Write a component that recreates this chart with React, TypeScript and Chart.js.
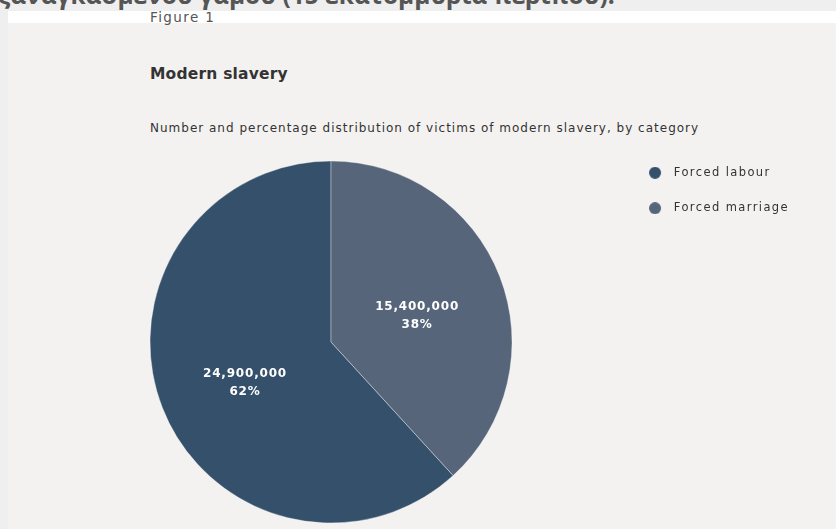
import React, { useEffect, useRef } from 'react';
import { Chart, registerables } from 'chart.js';

Chart.register(...registerables);

const categories = ['Forced labour', 'Forced marriage'];
const victims = [24900000, 15400000];
const sliceColors = ['#34506a', '#566579'];

const FONT = '"DejaVu Sans", sans-serif';

function makeDot(color: string): HTMLCanvasElement {
  const c = document.createElement('canvas');
  c.width = 19;
  c.height = 12;
  const g = c.getContext('2d')!;
  g.fillStyle = color;
  g.beginPath();
  g.arc(6, 6, 6, 0, Math.PI * 2);
  g.fill();
  return c;
}

const spacingPlugin = {
  id: 'spacing',
  beforeLayout(chart: any) {
    chart.ctx.letterSpacing = '1.4px';
  },
  beforeDraw(chart: any) {
    chart.ctx.letterSpacing = '1.4px';
  },
};

const sliceLabels = {
  id: 'sliceLabels',
  afterDatasetsDraw(chart: any) {
    const ctx = chart.ctx;
    const meta = chart.getDatasetMeta(0);
    const total = victims.reduce((a, b) => a + b, 0);
    ctx.save();
    ctx.letterSpacing = '0.8px';
    ctx.font = `bold 12px ${FONT}`;
    ctx.fillStyle = '#ffffff';
    ctx.textAlign = 'center';
    ctx.textBaseline = 'middle';
    meta.data.forEach((arc: any, i: number) => {
      const { x, y, startAngle, endAngle, outerRadius } = arc.getProps(
        ['x', 'y', 'startAngle', 'endAngle', 'outerRadius'],
        true
      );
      const mid = (startAngle + endAngle) / 2;
      const r = outerRadius * 0.51;
      const px = x + Math.cos(mid) * r;
      const py = y + Math.sin(mid) * r;
      ctx.fillText(victims[i].toLocaleString('en-US'), px, py - 2);
      ctx.fillText(Math.round((victims[i] / total) * 100) + '%', px, py + 16);
    });
    ctx.restore();
  },
};

function PieChart() {
  const ref = useRef<HTMLCanvasElement>(null);
  useEffect(() => {
    if (!ref.current) return;
    const dots = sliceColors.map(makeDot);
    const total = victims.reduce((a, b) => a + b, 0);
    const chart = new Chart(ref.current, {
      type: 'pie',
      data: {
        labels: categories,
        datasets: [
          {
            data: victims,
            backgroundColor: sliceColors,
            borderColor: 'rgba(255,255,255,0.35)',
            borderWidth: 1,
          },
        ],
      },
      options: {
        animation: false,
        responsive: true,
        maintainAspectRatio: false,
        rotation: (victims[1] / total) * 360,
        radius: 181,
        layout: { padding: { left: 29, right: 37, top: 3, bottom: 1 } },
        plugins: {
          tooltip: { enabled: false },
          legend: {
            position: 'right',
            align: 'start',
            labels: {
              usePointStyle: true,
              pointStyleWidth: 19,
              padding: 24,
              color: '#333333',
              font: { family: FONT, size: 11.5 },
              generateLabels(c: any) {
                const items = (Chart as any).overrides.doughnut.plugins.legend.labels.generateLabels(c);
                return items.map((it: any, i: number) => ({ ...it, pointStyle: dots[i] }));
              },
            },
          },
        },
      } as any,
      plugins: [spacingPlugin, sliceLabels],
    });
    return () => chart.destroy();
  }, []);
  return <canvas ref={ref} />;
}

export default function App() {
  return (
    <div
      style={{
        position: 'fixed',
        left: 0,
        top: 0,
        width: 836,
        height: 529,
        overflow: 'hidden',
        background: '#efefef',
        fontFamily: FONT,
      }}
    >
      <div style={{ position: 'absolute', left: 8, top: 11, width: 828, height: 12, background: '#ffffff' }} />
      <div style={{ position: 'absolute', left: 8, top: 23, width: 828, height: 506, background: '#f3f2f1' }} />
      <div
        style={{
          position: 'absolute',
          left: -2,
          top: -18,
          fontFamily: '"Open Sans", sans-serif',
          fontSize: 24.5,
          fontWeight: 'bold',
          lineHeight: '25px',
          color: '#555555',
          whiteSpace: 'nowrap',
        }}
      >
        ξαναγκασμένου γάμου (15 εκατομμύρια περίπου).
      </div>
      <div
        style={{
          position: 'absolute',
          left: 150,
          top: 9,
          fontSize: 13.5,
          lineHeight: '16px',
          letterSpacing: '1.4px',
          color: '#555555',
          whiteSpace: 'nowrap',
        }}
      >
        Figure 1
      </div>
      <div
        style={{
          position: 'absolute',
          left: 150,
          top: 65,
          fontSize: 15.5,
          fontWeight: 'bold',
          lineHeight: '18px',
          letterSpacing: '0.2px',
          color: '#333333',
          whiteSpace: 'nowrap',
        }}
      >
        Modern slavery
      </div>
      <div
        style={{
          position: 'absolute',
          left: 150,
          top: 121,
          fontSize: 12,
          lineHeight: '14px',
          letterSpacing: '1px',
          color: '#333333',
          whiteSpace: 'nowrap',
        }}
      >
        Number and percentage distribution of victims of modern slavery, by category
      </div>
      <div style={{ position: 'absolute', left: 8, top: 140, width: 828, height: 402 }}>
        <PieChart />
      </div>
    </div>
  );
}
